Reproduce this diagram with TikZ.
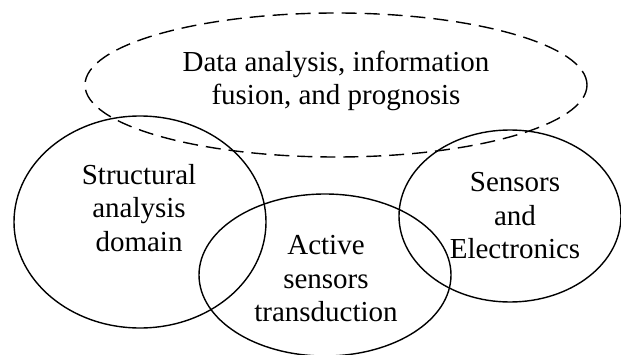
\documentclass[tikz,border=0pt]{standalone}
\usepackage{fontspec}
\setmainfont{Liberation Serif}
\usetikzlibrary{shapes.geometric}
\begin{document}
\begin{tikzpicture}[x=1pt,y=1pt,
  blob/.style={draw=black,line width=1.4pt,ellipse,inner sep=0pt},
  dashblob/.style={blob,dash pattern=on 15pt off 8pt},
  lbl/.style={align=center,font=\fontsize{29}{33.5}\selectfont,inner sep=0pt}]
\useasboundingbox (0,0) rectangle (621,354);
\node[dashblob,minimum width=502pt,minimum height=144pt] (data) at (336,269) {};
\node[blob,minimum width=252pt,minimum height=212pt] (struct) at (140,132) {};
\node[blob,minimum width=252pt,minimum height=162pt] (active) at (325,79) {};
\node[blob,minimum width=222pt,minimum height=172pt] (sens) at (510,138) {};
\node[lbl] (tdata) at (336,273) {Data analysis, information\\fusion, and prognosis};
\node[lbl] (tstruct) at (139,146) {Structural\\analysis\\domain};
\node[lbl] (tactive) at (326,75) {Active\\sensors\\transduction};
\node[lbl] (tsens) at (515,138) {Sensors\\and\\Electronics};
\end{tikzpicture}
\end{document}
